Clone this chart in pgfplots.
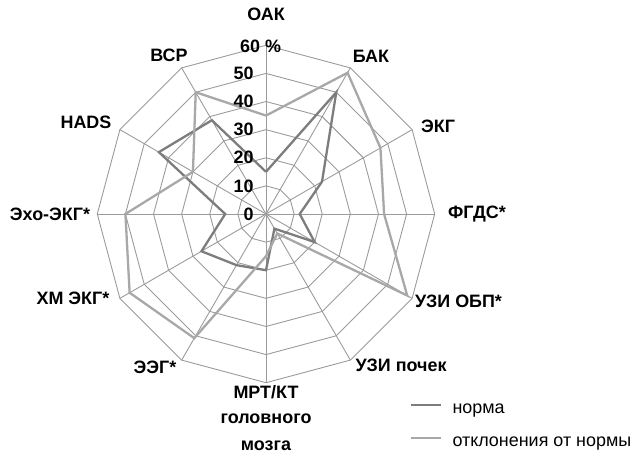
\documentclass[border=0pt]{standalone}
\usepackage{fontspec}
\setmainfont{Liberation Sans}
\usepackage{pgfplots}
\usepgfplotslibrary{polar}
\pgfplotsset{compat=1.18}
\usepackage{pgfplotstable}
\definecolor{darkser}{RGB}{125,125,125}
\definecolor{lightser}{RGB}{168,168,168}
\definecolor{gridc}{RGB}{155,155,155}

% angle (deg), norma, otkloneniya ot normy (percent)
\pgfplotstableread{
ang norma otkl
90  15   35
60  50   58
30  23   47
0   12   42
330 20   58
300 6    8
270 20   15
240 21   51
210 26.5 56
180 14.5 50
150 44   30
120 38.5 50
90  15   35
}\radar

\begin{document}
\begin{tikzpicture}
\begin{polaraxis}[
  hide axis, scale only axis,
  width=337.4bp, height=337.4bp,
  xmin=0, xmax=360, ymin=0, ymax=60,
  clip=false,
  legend style={draw=none, fill=none, inner xsep=0pt, inner ysep=0pt,
    at={(0.9268,-0.0533)}, anchor=north west,
    font=\fontsize{18}{20}\selectfont,
    row sep=16bp, column sep=10bp,
    nodes={inner sep=0pt, text height=13bp, text depth=4bp}},
  legend cell align=left,
  legend image code/.code={\draw[#1] (0bp,4.7bp) -- (30bp,4.7bp);},
]
\coordinate (O) at (axis cs:0,0);
% dodecagonal grid
\pgfplotsinvokeforeach{10,20,30,40,50,60}{
  \addplot[gridc, line width=0.9bp, forget plot] coordinates {
    (0,#1) (30,#1) (60,#1) (90,#1) (120,#1) (150,#1) (180,#1)
    (210,#1) (240,#1) (270,#1) (300,#1) (330,#1) (360,#1)};
}
% spokes
\pgfplotsinvokeforeach{0,30,60,90,120,150,180,210,240,270,300,330}{
  \addplot[gridc, line width=0.9bp, forget plot] coordinates {(#1,0) (#1,60)};
}
\addplot[darkser, line width=2.3bp, line join=miter] table[x=ang, y=norma] {\radar};
\addlegendentry{норма}
\addplot[lightser, line width=2.3bp, line join=miter] table[x=ang, y=otkl] {\radar};
\addlegendentry{отклонения от нормы}

% radial tick labels
\begin{scope}[font=\fontsize{18}{20}\selectfont\bfseries]
\node[anchor=east] at ([xshift=-9bp]axis cs:90,0) {0};
\node[anchor=east] at ([xshift=-9bp]axis cs:90,10) {10};
\node[anchor=east] at ([xshift=-9bp]axis cs:90,20) {20};
\node[anchor=east] at ([xshift=-9bp]axis cs:90,30) {30};
\node[anchor=east] at ([xshift=-9bp]axis cs:90,40) {40};
\node[anchor=east] at ([xshift=-9bp]axis cs:90,50) {50};
\node[anchor=west] at ([xshift=-29.3bp,yshift=-1bp]axis cs:90,60) {60 \%};
% category labels
\node at ([shift={(0bp,200bp)}]O) {ОАК};
\node at ([shift={(105bp,157.5bp)}]O) {БАК};
\node at ([shift={(172bp,88bp)}]O) {ЭКГ};
\node at ([shift={(211bp,0bp)}]O) {ФГДС*};
\node at ([shift={(192.5bp,-87bp)}]O) {УЗИ ОБП*};
\node at ([shift={(135bp,-151bp)}]O) {УЗИ почек};
\node at ([shift={(0bp,-178bp)}]O) {МРТ/КТ};
\node at ([shift={(0bp,-205bp)}]O) {головного};
\node at ([shift={(0bp,-232bp)}]O) {мозга};
\node at ([shift={(-111bp,-153bp)}]O) {ЭЭГ*};
\node at ([shift={(-193bp,-84bp)}]O) {ХМ ЭКГ*};
\node at ([shift={(-216bp,0bp)}]O) {Эхо-ЭКГ*};
\node at ([shift={(-180bp,92bp)}]O) {HADS};
\node at ([shift={(-97bp,159bp)}]O) {ВСР};
\end{scope}
\end{polaraxis}
\pgfresetboundingbox
\path ([shift={(-266bp,-239bp)}]O) rectangle ([shift={(369bp,214bp)}]O);
\end{tikzpicture}
\end{document}
